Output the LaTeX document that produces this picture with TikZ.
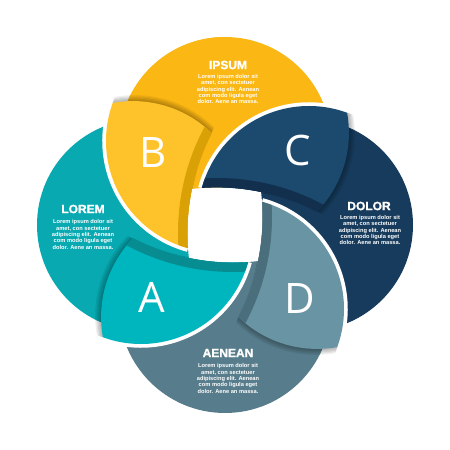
\documentclass[tikz,border=0pt]{standalone}
\usepackage{fontspec}
\setmainfont{Liberation Sans}
\newfontfamily\letterfont{Open Sans}
\newfontfamily\heavyfont{Liberation Sans}[FakeBold=1.3]
\definecolor{yelC}{HTML}{FBB713}
\definecolor{yelP}{HTML}{FEC22B}
\definecolor{yelB}{HTML}{D9A106}
\definecolor{navC}{HTML}{173B5C}
\definecolor{navP}{HTML}{1C4A6E}
\definecolor{navB}{HTML}{12304D}
\definecolor{slaC}{HTML}{577C8B}
\definecolor{slaP}{HTML}{6994A3}
\definecolor{slaB}{HTML}{4A6E7C}
\definecolor{teaC}{HTML}{08A9B1}
\definecolor{teaP}{HTML}{00B6BE}
\definecolor{teaB}{HTML}{078D91}
\newcommand\petal{(-23.16,37) arc[start angle=164.86,end angle=69.92,radius=111] arc[start angle=10.30,end angle=-44.35,radius=113] arc[start angle=62.41,end angle=94.04,radius=215.5] -- cycle}
\begin{document}
\begin{tikzpicture}[x=1pt,y=1pt,
  titletext/.style={text=white,font=\heavyfont\bfseries\fontsize{12}{14}\selectfont,inner sep=0},
  bodytext/.style={text=white,font=\bfseries\fontsize{5.7}{6.3}\selectfont,align=center,inner sep=0},
  lettertext/.style={text=white,font=\letterfont\fontsize{42}{42}\selectfont,inner sep=0}]
\useasboundingbox (-225,-225) rectangle (225,225);
\fill[white] (-225,-225) rectangle (225,225);
% circles (cyclic overlap: navy over yellow, slate over navy, teal over slate, yellow over teal)
\fill[yelC] (0,82) circle (106);
\fill[navC] (82,0) circle (106);
\fill[slaC] (0,-82) circle (106);
\fill[teaC] (-82,0) circle (106);
\begin{scope}
  \clip (-225,-225) rectangle (0,225);
  \fill[yelC] (0,82) circle (106);
\end{scope}
% shadows of petals
\foreach \a in {0,-90,180,90}{
  \begin{scope}[rotate=\a]
    \foreach \k in {1,...,5}{
      \fill[black,opacity=0.06,shift={(1.2*\k,-0.4*\k)}] \petal;
    }
  \end{scope}
}
% central hole
\begin{scope}
  \clip (-8,-178) circle (215.5);
  \clip (-178,8) circle (215.5);
  \clip (8,178) circle (215.5);
  \fill[white] (178,-8) circle (215.5);
\end{scope}
% petals
\foreach \a/\pc/\bc in {0/navP/navB,-90/slaP/slaB,180/teaP/teaB,90/yelP/yelB}{
  \begin{scope}[rotate=\a]
    \draw[white,line width=7.5] (-23.16,37) arc[start angle=164.86,end angle=69.92,radius=111];
    \fill[\pc] \petal;
    \begin{scope}
      \clip \petal;
      \fill[\bc] (-8,-178) circle (225);
    \end{scope}
  \end{scope}
}
% letters
\node[lettertext] (lC) at (73,75) {C};
\node[lettertext] (lD) at (75,-74) {D};
\node[lettertext] (lA) at (-73,-72) {A};
\node[lettertext] (lB) at (-72,72) {B};
% texts
\node[titletext] (tI) at (3,160) {IPSUM};
\node[bodytext] (bI) at (3,136) {Lorem ipsum dolor sit\\amet, con sectetuer\\adipiscing elit. Aenean\\com modo ligula eget\\dolor. Aene an massa.};
\node[titletext] (tD) at (144,19) {DOLOR};
\node[bodytext] (bD) at (145,-5) {Lorem ipsum dolor sit\\amet, con sectetuer\\adipiscing elit. Aenean\\com modo ligula eget\\dolor. Aene an massa.};
\node[titletext] (tL) at (-142,16) {LOREM};
\node[bodytext] (bL) at (-142,-9.5) {Lorem ipsum dolor sit\\amet, con sectetuer\\adipiscing elit. Aenean\\com modo ligula eget\\dolor. Aene an massa.};
\node[titletext] (tA) at (3,-128) {AENEAN};
\node[bodytext] (bA) at (3,-153.5) {Lorem ipsum dolor sit\\amet, con sectetuer\\adipiscing elit. Aenean\\com modo ligula eget\\dolor. Aene an massa.};
\end{tikzpicture}
\end{document}
